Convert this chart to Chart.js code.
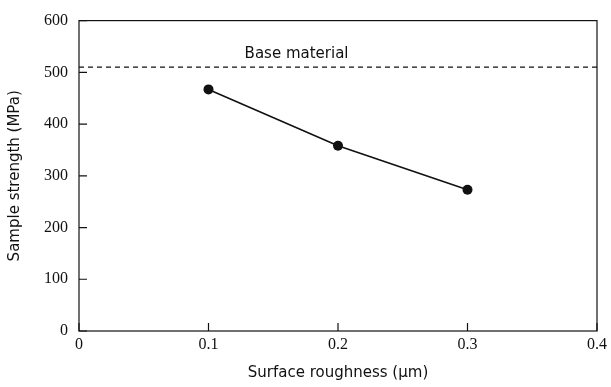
<!DOCTYPE html>
<html>
<head>
<meta charset="utf-8">
<script src="https://cdn.jsdelivr.net/npm/chart.js@4"></script>
<style>
  html, body { margin: 0; padding: 0; background: #fff; }
  #wrap { width: 611px; height: 387px; }
</style>
</head>
<body>
<div id="wrap"><canvas id="chart" width="611" height="387"></canvas></div>
<script>
// data
var roughness = [0.1, 0.2, 0.3];
var strength = [467, 358, 273];
var baseRange = [0, 0.4];
var baseStrength = 510;
var baseLabel = 'Base material';
var yTicks = [0, 100, 200, 300, 400, 500, 600];
var xTicks = [0, 0.1, 0.2, 0.3, 0.4];

var ink = '#111';
var titleFont = { family: 'DejaVu Sans', size: 15 };
var tickFont = { family: 'Liberation Serif', size: 16 };

// frame round the plot plus inward ticks and the base label
var framePlugin = {
    id: 'frame',
    afterDatasetsDraw: function (chart) {
        var c = chart.ctx, a = chart.chartArea;
        var xs = chart.scales.x, ys = chart.scales.y;
        c.save();
        c.strokeStyle = ink;
        c.lineWidth = 1.2;
        c.strokeRect(a.left, a.top, a.right - a.left, a.bottom - a.top);
        c.beginPath();
        yTicks.forEach(function (v) {
            var py = ys.getPixelForValue(v);
            c.moveTo(a.left, py);
            c.lineTo(a.left + 8, py);
        });
        xTicks.forEach(function (v) {
            var px = xs.getPixelForValue(v);
            c.moveTo(px, a.bottom);
            c.lineTo(px, a.bottom - 8);
        });
        c.stroke();
        c.fillStyle = ink;
        c.font = '15px "DejaVu Sans"';
        c.textAlign = 'center';
        c.textBaseline = 'middle';
        c.fillText(baseLabel, xs.getPixelForValue(0.168), ys.getPixelForValue(535));
        c.restore();
    }
};

var ctx = document.getElementById('chart').getContext('2d');
var chart = new Chart(ctx, {
    type: 'scatter',
    data: {
        datasets: [{
            data: roughness.map(function (r, i) { return { x: r, y: strength[i] }; }),
            showLine: true,
            borderColor: ink,
            backgroundColor: ink,
            borderWidth: 1.6,
            pointRadius: 5,
            pointBorderWidth: 0
        }, {
            data: baseRange.map(function (r) { return { x: r, y: baseStrength }; }),
            showLine: true,
            borderColor: ink,
            borderWidth: 1.3,
            borderDash: [5, 4],
            pointRadius: 0
        }]
    },
    options: {
        responsive: false,
        animation: false,
        layout: { padding: { top: 19, right: 10, left: 0, bottom: 0 } },
        plugins: { legend: { display: false }, tooltip: { enabled: false } },
        scales: {
            x: {
                type: 'linear',
                min: 0, max: 0.4,
                afterBuildTicks: function (s) { s.ticks = xTicks.map(function (v) { return { value: v }; }); },
                afterFit: function (s) { s.height = 56; },
                grid: { display: false, drawTicks: false },
                border: { display: false },
                ticks: { color: ink, font: tickFont, padding: 4, maxRotation: 0,
                    callback: function (v) { return v === 0 ? '0' : v.toFixed(1); } },
                title: { display: true, text: 'Surface roughness (µm)', color: ink, font: titleFont,
                    padding: { top: 0, bottom: 5 } }
            },
            y: {
                type: 'linear',
                min: 0, max: 600,
                afterBuildTicks: function (s) { s.ticks = yTicks.map(function (v) { return { value: v }; }); },
                afterFit: function (s) { s.width = 79; },
                grid: { display: false, drawTicks: false },
                border: { display: false },
                ticks: { color: ink, font: tickFont, padding: 11 },
                title: { display: true, text: 'Sample strength (MPa)', color: ink, font: titleFont,
                    padding: { top: 6, bottom: 0 } }
            }
        }
    },
    plugins: [framePlugin]
});
</script>
</body>
</html>
